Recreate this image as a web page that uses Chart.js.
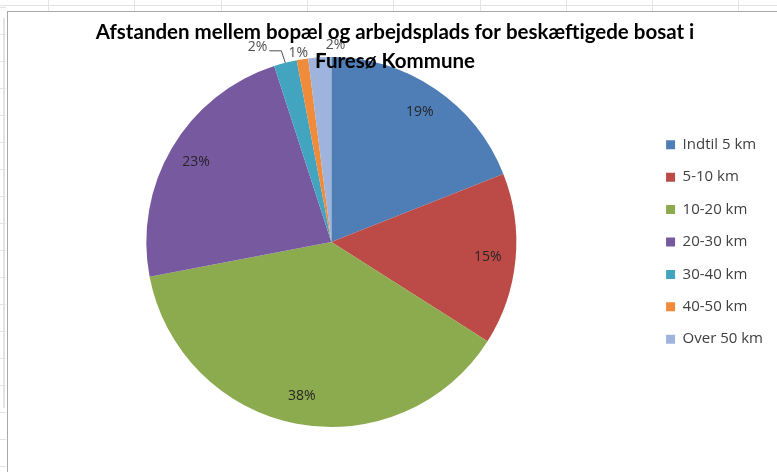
<!DOCTYPE html>
<html>
<head>
<meta charset="utf-8">
<script src="https://cdn.jsdelivr.net/npm/chart.js@4.4.1/dist/chart.umd.min.js"></script>
<style>
  body { margin: 0; background: #fff; }
  #wrap { position: relative; width: 777px; height: 472px; overflow: hidden; background: #fff; }
  .grid { position: absolute; background: #e3e3e3; }
  .frame { position: absolute; background: #a8a8a8; }
  canvas { position: absolute; left: 0; top: 0; }
</style>
</head>
<body>
<div id="wrap">
  <canvas id="pieChart" width="777" height="472"></canvas>
</div>
<script>
// data
const categories = ['Indtil 5 km', '5-10 km', '10-20 km', '20-30 km', '30-40 km', '40-50 km', 'Over 50 km'];
const shares = [19, 15, 38, 23, 2, 1, 2];
const sliceColors = ['#4f7db6', '#bc4a47', '#8cab4e', '#7759a0', '#43a4bf', '#f08b3c', '#9fb4dc'];
const titleLines = ['Afstanden mellem bopæl og arbejdsplads for beskæftigede bosat i', 'Furesø Kommune'];

// spreadsheet behind the chart (gridlines peeking out at top and left)
const wrap = document.getElementById('wrap');
function addDiv(cls, x, y, w, h) {
    const d = document.createElement('div');
    d.className = cls;
    d.style.left = x + 'px'; d.style.top = y + 'px';
    d.style.width = w + 'px'; d.style.height = h + 'px';
    wrap.insertBefore(d, wrap.firstChild);
}
addDiv('grid', 0, 5, 777, 1);
for (let x = 48; x < 777; x += 86.3) addDiv('grid', Math.round(x), 0, 1, 11);
for (let y = 7; y < 472; y += 27) addDiv('grid', 0, y, 6, 1);
addDiv('grid', 3, 18, 2, 390);
addDiv('frame', 7, 11, 770, 1);
addDiv('frame', 7, 11, 1, 461);

// percentage labels: inside the big slices, outside with leader lines for the thin ones
const sliceLabels = {
    id: 'sliceLabels',
    afterDatasetsDraw(chart, args, opts) {
        const ctx = chart.ctx;
        const meta = chart.getDatasetMeta(0);
        const data = chart.data.datasets[0].data;
        const total = data.reduce((a, b) => a + b, 0);
        let small = 0;
        ctx.save();
        meta.data.forEach((arc, i) => {
            const p = arc.getProps(['x', 'y', 'startAngle', 'endAngle', 'outerRadius'], true);
            const mid = (p.startAngle + p.endAngle) / 2;
            const txt = Math.round(data[i] / total * 100) + '%';
            if (data[i] >= 5) {
                const r = p.outerRadius * 0.85;
                ctx.font = '14px "Open Sans"';
                ctx.fillStyle = '#262626';
                ctx.textAlign = 'center';
                ctx.textBaseline = 'middle';
                ctx.fillText(txt, p.x + Math.cos(mid) * r, p.y + Math.sin(mid) * r);
                return;
            }
            // thin slice: callout above the pie
            const ex = p.x + Math.cos(mid) * p.outerRadius;
            const ey = p.y + Math.sin(mid) * p.outerRadius;
            const c = opts.callouts[small++];
            ctx.font = '14px "Open Sans"';
            ctx.fillStyle = '#505050';
            ctx.strokeStyle = '#505050';
            ctx.lineWidth = 1;
            if (c.leader) {
                ctx.beginPath();
                ctx.moveTo(ex, ey);
                ctx.lineTo(ex + c.leader[0], ey + c.leader[1]);
                ctx.lineTo(ex + c.leader[0] + c.leader[2], ey + c.leader[1]);
                ctx.stroke();
            }
            ctx.textAlign = c.align;
            ctx.textBaseline = 'middle';
            ctx.fillText(txt, ex + c.dx, ey + c.dy);
        });
        ctx.restore();
    }
};

// chart title drawn on top of the pie, like the original
const overlayTitle = {
    id: 'overlayTitle',
    afterDraw(chart, args, opts) {
        const ctx = chart.ctx;
        ctx.save();
        ctx.font = 'bold 20.5px Lato';
        ctx.fillStyle = '#000';
        ctx.textAlign = 'center';
        ctx.textBaseline = 'middle';
        titleLines.forEach((line, i) => ctx.fillText(line, opts.x, opts.y + i * opts.lineGap));
        ctx.restore();
    }
};

const pieCtx = document.getElementById('pieChart').getContext('2d');
new Chart(pieCtx, {
    type: 'pie',
    data: {
        labels: categories,
        datasets: [{
            data: shares,
            backgroundColor: sliceColors,
            borderWidth: 0,
            hoverOffset: 0
        }]
    },
    options: {
        responsive: false,
        animation: false,
        layout: { padding: { left: 14, top: 57, bottom: 45, right: 4 } },
        plugins: {
            legend: {
                position: 'right',
                labels: {
                    boxWidth: 9,
                    boxHeight: 9,
                    padding: 17.4,
                    color: '#404040',
                    font: { family: 'Open Sans', size: 15 }
                }
            },
            tooltip: { enabled: false },
            sliceLabels: {
                callouts: [
                    { dx: -18, dy: -16, align: 'right', leader: [-4, -12, -12] },
                    { dx: -4, dy: -6, align: 'center' },
                    { dx: 6, dy: -12, align: 'left', leader: [-1, -4, 5] }
                ]
            },
            overlayTitle: { x: 395, y: 32, lineGap: 29 }
        }
    },
    plugins: [sliceLabels, overlayTitle]
});
</script>
</body>
</html>
